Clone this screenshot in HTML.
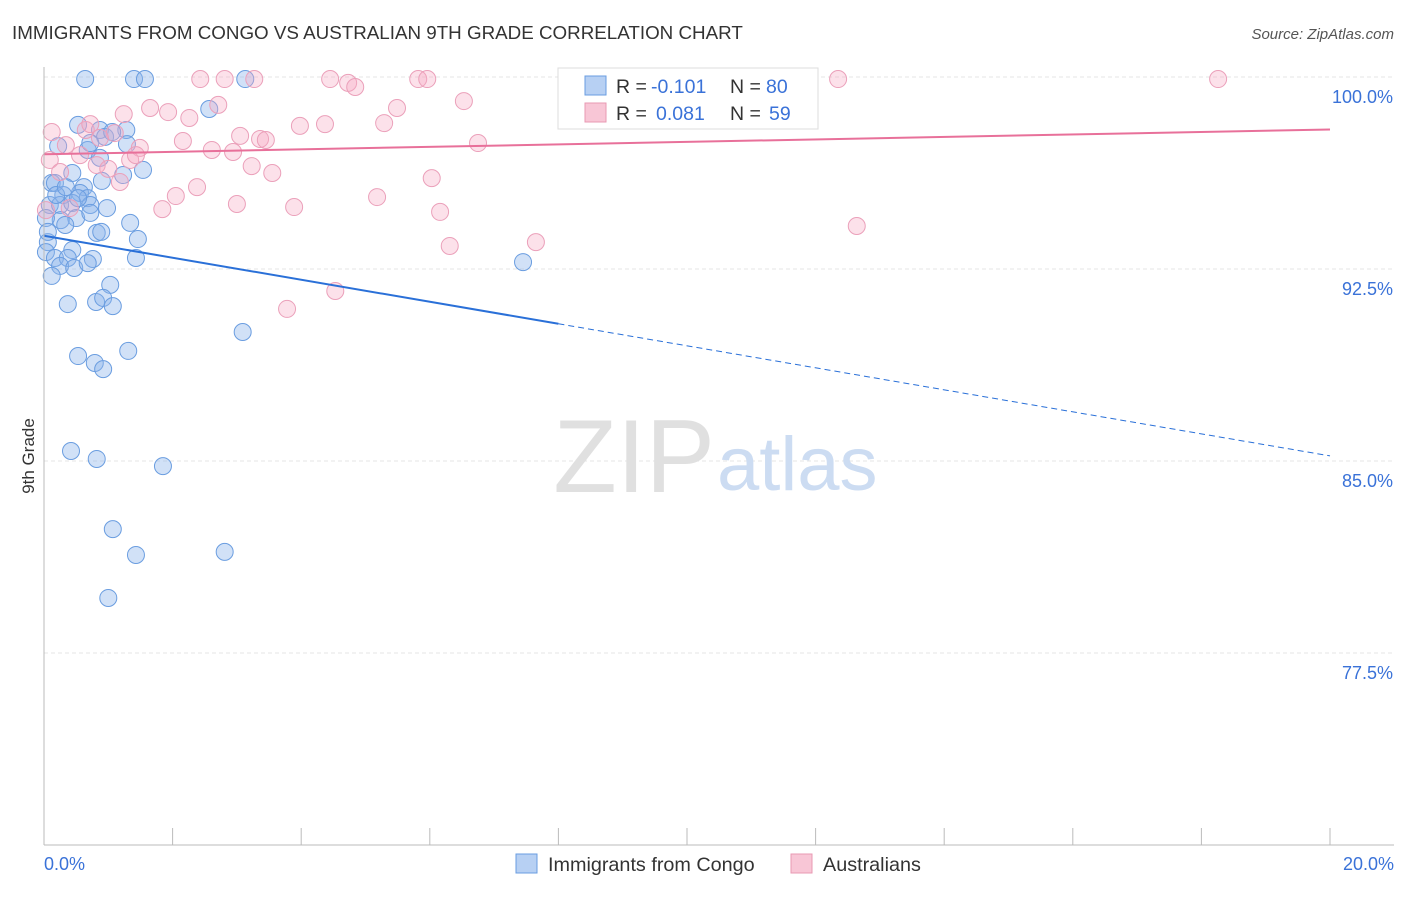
<!DOCTYPE html>
<html><head><meta charset="utf-8"><style>
body{margin:0;background:#fff;font-family:"Liberation Sans",sans-serif}
svg text{font-family:"Liberation Sans",sans-serif}
</style></head><body>
<svg width="1406" height="892" xmlns="http://www.w3.org/2000/svg">
<text x="12" y="39" font-size="18.8" fill="#333">IMMIGRANTS FROM CONGO VS AUSTRALIAN 9TH GRADE CORRELATION CHART</text>
<text x="1394" y="39" font-size="15" fill="#555" font-style="italic" text-anchor="end">Source: ZipAtlas.com</text>
<text x="34" y="456" font-size="17" fill="#333" transform="rotate(-90 34 456)" text-anchor="middle">9th Grade</text>
<g id="grid"></g>
<text x="715" y="492" font-size="104" fill="#e0e0e0" text-anchor="end" font-family="Liberation Serif">ZIP</text>
<text x="717" y="490" font-size="76" fill="#ccdcf2">atlas</text>
<g id="pts"></g>
<g id="lines"></g>
<line x1="44" y1="67" x2="44" y2="845" stroke="#bbb"/>
<line x1="44" y1="845" x2="1394" y2="845" stroke="#bbb"/>
<g id="ticks"></g>
<text x="44" y="870" font-size="18" fill="#3a72d8">0.0%</text>
<text x="1394" y="870" font-size="18" fill="#3a72d8" text-anchor="end">20.0%</text>
<g>
<rect x="558" y="68" width="260" height="61" fill="#fff" stroke="#ddd"/>
<rect x="585" y="76" width="21" height="19" fill="#b7d0f3" stroke="#6a9de0"/>
<rect x="585" y="103" width="21" height="19" fill="#f8c6d6" stroke="#e899b3"/>
<text y="93" font-size="19.5" fill="#333"><tspan x="616">R =</tspan><tspan x="651" fill="#3a72d8">-0.101</tspan><tspan x="730">N =</tspan><tspan x="766" fill="#3a72d8">80</tspan></text>
<text y="120" font-size="19.5" fill="#333"><tspan x="616">R =</tspan><tspan x="656" fill="#3a72d8">0.081</tspan><tspan x="730">N =</tspan><tspan x="769" fill="#3a72d8">59</tspan></text>
</g>
<g>
<rect x="516" y="854" width="21" height="19" fill="#b7d0f3" stroke="#6a9de0"/>
<text x="548" y="871" font-size="19.8" fill="#333">Immigrants from Congo</text>
<rect x="791" y="854" width="21" height="19" fill="#f8c6d6" stroke="#e899b3"/>
<text x="823" y="871" font-size="19.8" fill="#333">Australians</text>
</g>
</svg>
<script>
const yTicks=[100,92.5,85,77.5];
const yTickLabels=["100.0%","92.5%","85.0%","77.5%"];
const xTicks=[0,2,4,6,8,10,12,14,16,18,20];
const blueX=[0.64,1.40,1.57,3.13,2.57,0.53,0.87,1.28,0.22,0.68,0.95,1.29,0.72,1.54,1.23,0.44,0.12,0.17,0.90,0.62,0.56,0.30,0.68,0.09,0.25,0.44,0.72,0.98,0.50,0.26,0.03,0.33,1.34,0.82,0.89,1.46,0.06,0.44,0.03,0.17,0.37,0.76,1.43,0.25,0.47,0.68,0.12,7.45,1.03,0.37,0.81,0.92,1.07,3.09,1.31,0.53,0.79,0.92,0.42,0.82,1.85,1.07,2.81,1.43,1.00,0.06,0.19,0.34,0.53,0.72,1.06,0.87];
const blueY=[99.92,99.92,99.92,99.92,98.75,98.13,97.93,97.93,97.30,97.15,97.66,97.38,97.42,96.37,96.17,96.25,95.86,95.86,95.94,95.70,95.47,95.39,95.27,95.00,95.00,95.08,95.00,94.88,94.49,94.41,94.49,94.22,94.30,93.91,93.95,93.67,93.55,93.24,93.16,92.93,92.93,92.89,92.93,92.62,92.54,92.73,92.23,92.77,91.88,91.13,91.21,91.37,91.05,90.04,89.30,89.10,88.83,88.59,85.39,85.08,84.80,82.34,81.45,81.33,79.65,93.95,95.39,95.70,95.27,94.69,97.85,96.84];
const pinkX=[2.43,2.81,3.27,4.45,4.73,4.84,5.82,5.96,12.35,18.26,2.71,1.65,1.93,1.24,2.26,6.53,5.49,3.98,4.37,5.29,0.65,1.10,0.72,3.05,3.36,3.45,2.61,2.94,2.16,1.49,6.75,1.34,0.82,1.00,3.23,3.55,1.18,6.03,2.38,2.05,1.84,3.00,3.89,5.18,6.16,6.31,7.65,12.64,4.53,3.78,0.09,0.25,0.34,0.03,0.40,0.12,1.43,0.87,0.56];
const pinkY=[99.92,99.92,99.92,99.92,99.77,99.61,99.92,99.92,99.92,99.92,98.91,98.79,98.63,98.55,98.40,99.06,98.79,98.09,98.16,98.20,97.93,97.81,98.16,97.70,97.58,97.54,97.15,97.07,97.50,97.23,97.42,96.76,96.56,96.41,96.52,96.25,95.90,96.05,95.70,95.35,94.84,95.04,94.92,95.31,94.73,93.40,93.55,94.18,91.64,90.94,96.76,96.29,97.34,94.80,94.88,97.85,96.95,97.62,96.95];
const blueTrend=[93.8,-0.43];
const pinkTrend=[96.98,0.0485];
const NS="http://www.w3.org/2000/svg";
const sx=v=>44+v/20*1286;
const sy=v=>77+(100-v)*25.6;
function mk(tag,attrs,parent){const e=document.createElementNS(NS,tag);for(const k in attrs)e.setAttribute(k,attrs[k]);document.getElementById(parent).appendChild(e);return e;}
yTicks.forEach((t,i)=>{
 const l=mk('line',{x1:44,x2:1394,y1:sy(t),y2:sy(t),stroke:'#e4e4e4','stroke-dasharray':'4,3'},'grid');
 
 
 const tx=mk('text',{x:1393,y:sy(t)+26,'font-size':18,fill:'#3a72d8','text-anchor':'end'},'grid');
 tx.textContent=yTickLabels[i];
 
 
});
xTicks.forEach(t=>{
 const l=mk('line',{x1:sx(t),x2:sx(t),y1:828,y2:845,stroke:'#bbb'},'ticks');
 
 
});
blueX.forEach((x,i)=>{
 const c=mk('circle',{cx:sx(x),cy:sy(blueY[i]),r:8.5,fill:'rgba(140,180,235,0.4)',stroke:'#6a9de0','stroke-width':1},'pts');
 
 
});
pinkX.forEach((x,i)=>{
 const c=mk('circle',{cx:sx(x),cy:sy(pinkY[i]),r:8.5,fill:'rgba(245,170,195,0.35)',stroke:'#eba0ba','stroke-width':1},'pts');
 
 
});
const bt=x=>blueTrend[0]+blueTrend[1]*x, pt=x=>pinkTrend[0]+pinkTrend[1]*x;
let l1=mk('line',{x1:sx(0),y1:sy(bt(0)),x2:sx(8),y2:sy(bt(8)),stroke:'#2a70d8','stroke-width':2},'lines');


let l2=mk('line',{x1:sx(8),y1:sy(bt(8)),x2:sx(20),y2:sy(bt(20)),stroke:'#2a70d8','stroke-width':1,'stroke-dasharray':'6,4'},'lines');


let l3=mk('line',{x1:sx(0),y1:sy(pt(0)),x2:sx(20),y2:sy(pt(20)),stroke:'#e8709a','stroke-width':2},'lines');


</script>
</body></html>
